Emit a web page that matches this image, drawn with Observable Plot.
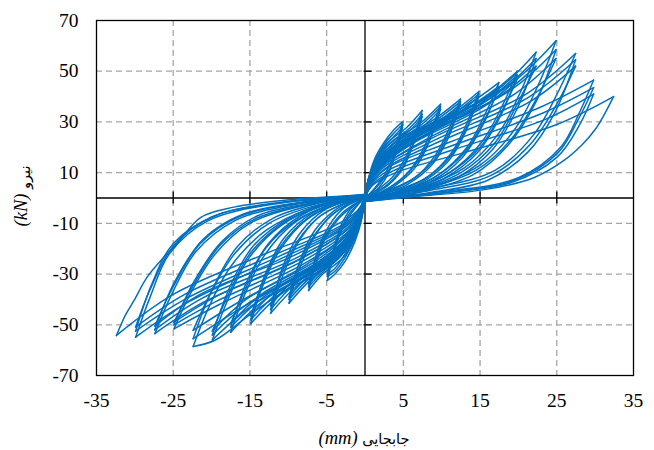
<!DOCTYPE html>
<html>
<head>
<meta charset="utf-8">
<script src="https://cdn.jsdelivr.net/npm/d3@7"></script>
<script src="https://cdn.jsdelivr.net/npm/@observablehq/plot@0.6"></script>
<style>
  html, body { margin: 0; padding: 0; background: #fff; }
</style>
</head>
<body>
<div id="chart"></div>
<script>
const xTicks = [-35, -25, -15, -5, 5, 15, 25, 35];
const yTicks = [-70, -50, -30, -10, 10, 30, 50, 70];
const xGrid = [-25, -15, -5, 5, 15, 25];
const yGrid = [-50, -30, -10, 10, 30, 50];
const xTitleText = "جابجایی";
const xTitleUnit = "(mm)";
const yTitleText = "نیرو";
const yTitleUnit = "(kN)";

// Positive half-cycles: [displacement mm, force kN], origin -> peak -> origin
const posLoops = [
  [[0,0.5],[0.4,7],[1.2,15],[2.5,22],[3.8,27],[4.9,30],[4.3,23],[3.5,15],[2.3,8],[1,3],[0,0]],
  [[0,0.5],[0.5,6],[1.4,14],[2.8,21],[4,25],[4.9,28],[4.2,20],[3.3,12],[2,6],[0.8,2],[0,-0.5]],
  [[0,0],[0.45,6.5],[1.3,14.5],[2.6,21.5],[3.9,26],[4.9,29],[4.1,19],[3.1,10],[1.8,4],[0.6,1],[-0.3,-1.5]],
  [[0,0.5],[0.5,8],[1.5,16],[3,22],[5.5,28],[7.45,34.5],[6.6,26],[5.3,16],[3.5,8],[1.5,3],[0,0]],
  [[0,0.5],[0.6,7],[1.6,14],[3.5,21],[6,27],[7.45,32],[6.5,23],[5,13],[3.2,6],[1.3,2],[0,-0.5]],
  [[0,0],[0.55,7.5],[1.55,15],[3.2,21.5],[5.8,27.5],[7.45,33],[6.4,22],[4.8,11],[3,5],[1.2,1.5],[-0.3,-1.5]],
  [[0,0.5],[0.5,8],[1.5,15],[3.5,22],[7,29],[9.85,37],[8.8,28],[7.2,17],[5,8],[2.5,3],[0,0]],
  [[0,0.5],[0.6,7],[1.8,14],[4,21],[7.5,28],[9.85,35],[8.7,25],[7,15],[4.5,7],[2,2],[0,-0.5]],
  [[0,0],[0.55,7.5],[1.6,14.5],[3.8,21.5],[7.2,28.5],[9.85,36],[8.6,24],[6.8,13],[4.2,5.5],[1.8,1.5],[-0.3,-1.5]],
  [[0,0.5],[0.5,8],[1.6,15],[4,22],[9,31],[12.45,39],[11.2,29],[9.2,17],[6.5,8],[3,3],[0,0]],
  [[0,0.5],[0.6,7],[1.8,13],[4.5,21],[9.5,30],[12.45,37],[11,26],[9,15],[6,7],[2.5,2],[0,-0.5]],
  [[0,0],[0.55,7.5],[1.7,14],[4.2,21.5],[9.2,30.5],[12.45,38],[10.9,24],[8.7,13],[5.6,5.5],[2.3,1.5],[-0.3,-1.5]],
  [[0,0.5],[0.5,8],[1.6,15],[4.5,23],[11,33],[14.85,42],[13.5,31],[11.3,18],[8,8],[4,3],[0,0]],
  [[0,0.5],[0.6,7],[2,13],[5,21],[11.5,32],[14.85,40],[13.3,28],[11,16],[7.5,7],[3.5,2],[0,-0.5]],
  [[0,0],[0.55,7.5],[1.8,14],[4.8,22],[11.2,32.5],[14.85,41],[13.1,26],[10.7,14],[7,5.5],[3.2,1.5],[-0.3,-1.5]],
  [[0,0.5],[0.6,8],[1.8,15],[5,23],[13,36],[17.45,45.5],[15.8,34],[13.3,20],[9.5,9],[5,3],[0,0]],
  [[0,0.5],[0.7,7],[2,13],[5.5,21],[13.5,34],[17.45,43],[15.6,31],[13,18],[9,8],[4.5,2],[0,-0.5]],
  [[0,0],[0.65,7.5],[1.9,14],[5.2,22],[13.2,35],[17.45,44],[15.4,29],[12.7,16],[8.6,6.5],[4.2,1.5],[-0.3,-1.5]],
  [[0,0.5],[0.6,8],[2,15],[6,24],[15,38],[19.85,50],[18,37],[15.2,22],[11,10],[6,3.5],[0,0]],
  [[0,0.5],[0.7,7],[2.2,13],[6.5,22],[15.5,36],[19.85,47],[17.8,34],[15,20],[10.5,9],[5.5,3],[0,-0.5]],
  [[0,0],[0.65,7.5],[2.1,14],[6.2,23],[15.2,37],[19.85,48.5],[17.6,32],[14.7,18],[10.2,7.5],[5.2,2],[-0.3,-1.5]],
  [[0,0.5],[0.6,8],[2,15],[7,26],[17,42],[22.3,57.5],[20.3,42],[17.3,25],[13,12],[7,4],[0,0]],
  [[0,0.5],[0.7,7],[2.3,13],[7.5,24],[17.5,40],[22.3,52],[20,38],[17,22],[12.5,10],[6.5,3],[0,-0.5]],
  [[0,0],[0.65,7.5],[2.1,14],[7.2,25],[17.2,41],[22.3,55],[19.8,35],[16.6,19],[12,8],[6.2,2],[-0.3,-1.5]],
  [[0,0.5],[0.6,8],[2.2,15],[8,27],[19,45],[24.9,62],[22.8,46],[19.5,27],[15,13],[8,4],[0,0]],
  [[0,0.5],[0.8,7],[2.5,13],[8.5,24],[19.5,41],[24.9,55],[22.5,40],[19,23],[14.5,11],[7.5,3.5],[0,-0.5]],
  [[0,0],[0.7,7.5],[2.3,14],[8.2,25.5],[19.2,43],[24.9,58.5],[22.3,38],[18.7,21],[14,9],[7.2,2.5],[-0.3,-1.5]],
  [[0,0.5],[0.7,7],[2.5,13],[9,24],[21,41],[27.45,57],[25.2,42],[22,25],[17,11],[9,4],[0,0]],
  [[0,0.5],[0.8,6],[2.8,12],[9.5,22],[21.5,38],[27.45,52],[25,37],[21.5,21],[16.5,9],[8.5,3],[0,-0.5]],
  [[0,0],[0.75,6.5],[2.6,12.5],[9.2,23],[21.2,39.5],[27.45,54.5],[24.8,34],[21.2,18],[16,7],[8.2,2],[-0.3,-1.5]],
  [[0,0.5],[0.8,6],[3,12],[11,22],[23,36],[29.8,46.5],[28,34],[25.5,20],[20,8],[10,2.5],[0,0]],
  [[0,0.5],[0.9,5],[3.2,10],[11.5,19],[23.5,31],[29.8,41],[28,29],[25,16],[19,6],[10,2],[0,-0.5]],
  [[0,0],[0.85,5.5],[3.1,11],[11.2,20.5],[23.2,33.5],[29.8,43.5],[27.8,31],[25.2,18],[19.5,7],[10,2],[-0.3,-1.5]],
  [[0,0.5],[1,5],[4,10],[13,18],[25,29],[32.4,40],[31.2,33],[30,27],[28.3,21],[25.8,14.5],[22,8],[16,3.5],[8,1],[0,0]]
];

// Negative half-cycles: origin -> negative peak -> origin
const negLoops = [
  [[0,0],[-0.4,-8],[-1.3,-17],[-2.6,-25],[-3.9,-30],[-4.9,-32.5],[-4.3,-25],[-3.4,-15],[-2.2,-8],[-1,-3],[0,0.5]],
  [[0,0],[-0.5,-7],[-1.4,-15],[-2.8,-23],[-4,-28],[-4.9,-30],[-4.2,-22],[-3.2,-13],[-2,-6],[-0.8,-2],[0,0.5]],
  [[-0.3,-1.5],[-0.45,-7.5],[-1.35,-16],[-2.7,-24],[-3.95,-29],[-4.9,-31],[-4.1,-20],[-3,-10],[-1.8,-4],[-0.6,-1],[0.3,1.5]],
  [[0,0],[-0.5,-8],[-1.5,-17],[-3,-24],[-5.5,-30],[-7.35,-36.5],[-6.5,-27],[-5.2,-16],[-3.4,-8],[-1.5,-3],[0,0.5]],
  [[0,0],[-0.6,-7],[-1.6,-15],[-3.5,-22],[-5.8,-29],[-7.35,-34],[-6.4,-24],[-5,-14],[-3,-6],[-1.2,-2],[0,0.5]],
  [[-0.3,-1.5],[-0.55,-7.5],[-1.55,-16],[-3.2,-23],[-5.6,-29.5],[-7.35,-35],[-6.3,-22],[-4.7,-11],[-2.8,-4],[-1,-1],[0.3,1.5]],
  [[0,0],[-0.5,-8],[-1.5,-16],[-3.5,-24],[-7,-32],[-9.9,-41.5],[-8.8,-30],[-7.1,-18],[-4.8,-8],[-2.3,-2.5],[0,0.5]],
  [[0,0],[-0.6,-7],[-1.8,-15],[-4,-23],[-7.5,-31],[-9.9,-39],[-8.7,-27],[-6.9,-16],[-4.4,-7],[-2,-2],[0,0.5]],
  [[-0.3,-1.5],[-0.55,-7.5],[-1.6,-15.5],[-3.8,-23.5],[-7.2,-31.5],[-9.9,-40],[-8.5,-25],[-6.6,-13],[-4,-5],[-1.7,-1],[0.3,1.5]],
  [[0,0],[-0.5,-8],[-1.6,-16],[-4,-25],[-9,-35],[-12.3,-45.5],[-11,-33],[-9,-19],[-6.2,-8],[-3,-2.5],[0,0.5]],
  [[0,0],[-0.6,-7],[-1.8,-14],[-4.5,-23],[-9.5,-33],[-12.3,-42.5],[-10.9,-30],[-8.8,-17],[-5.8,-7],[-2.6,-2],[0,0.5]],
  [[-0.3,-1.5],[-0.55,-7.5],[-1.7,-15],[-4.2,-24],[-9.2,-34],[-12.3,-44],[-10.7,-27],[-8.5,-14],[-5.4,-5],[-2.2,-1],[0.3,1.5]],
  [[0,0],[-0.5,-8],[-1.6,-16],[-4.5,-26],[-11,-38],[-14.9,-49.6],[-13.5,-36],[-11.2,-21],[-7.8,-9],[-3.8,-2.5],[0,0.5]],
  [[0,0],[-0.6,-7],[-2,-14],[-5,-24],[-11.5,-36],[-14.9,-46.5],[-13.3,-33],[-11,-19],[-7.3,-7.5],[-3.4,-2],[0,0.5]],
  [[-0.3,-1.5],[-0.55,-7.5],[-1.8,-15],[-4.8,-25],[-11.2,-37],[-14.9,-48],[-13,-30],[-10.6,-16],[-6.9,-6],[-3,-1],[0.3,1.5]],
  [[0,0],[-0.6,-8],[-1.8,-16],[-5,-26],[-13,-40],[-17.5,-52.9],[-15.8,-39],[-13.2,-23],[-9.3,-10],[-4.8,-3],[0,0.5]],
  [[0,0],[-0.7,-7],[-2,-14],[-5.5,-24],[-13.5,-38],[-17.5,-49.5],[-15.6,-36],[-13,-20],[-8.8,-8.5],[-4.3,-2.5],[0,0.5]],
  [[-0.3,-1.5],[-0.65,-7.5],[-1.9,-15],[-5.2,-25],[-13.2,-39],[-17.5,-51],[-15.4,-33],[-12.6,-18],[-8.4,-7],[-4,-1.5],[0.3,1.5]],
  [[0,0],[-0.6,-8],[-2,-16],[-6,-27],[-15,-43],[-19.9,-56],[-18,-41],[-15.2,-24],[-11,-11],[-6,-3.5],[0,0.5]],
  [[0,0],[-0.7,-7],[-2.2,-14],[-6.5,-25],[-15.5,-40],[-19.9,-52.5],[-17.8,-38],[-15,-22],[-10.5,-9.5],[-5.5,-3],[0,0.5]],
  [[-0.3,-1.5],[-0.65,-7.5],[-2.1,-15],[-6.2,-26],[-15.2,-41.5],[-19.9,-54],[-17.6,-35],[-14.6,-19],[-10,-8],[-5,-2],[0.3,1.5]],
  [[0,0],[-0.6,-8],[-2,-16],[-7,-29],[-15,-46],[-19.5,-56],[-22.4,-58.6],[-20.5,-44],[-17.5,-27],[-13,-13],[-7,-4],[0,0.5]],
  [[0,0],[-0.7,-7],[-2.3,-14],[-7.5,-26],[-17,-42],[-22.4,-52.2],[-20.2,-38],[-17,-22],[-12.5,-10],[-6.5,-3],[0,0.5]],
  [[-0.3,-1.5],[-0.65,-7.5],[-2.1,-15],[-7.2,-27.5],[-16.5,-44],[-22.4,-55.5],[-19.9,-36],[-16.6,-19],[-12,-8],[-6,-2],[0.3,1.5]],
  [[0,0],[-0.6,-7],[-2.2,-14],[-8,-26],[-19,-42],[-24.9,-51.6],[-22.8,-38],[-19.5,-22],[-15,-10],[-8,-3],[0,0.5]],
  [[0,0],[-0.8,-7],[-2.5,-13],[-8.5,-24],[-19.5,-39],[-24.9,-49],[-22.5,-35],[-19,-19],[-14.5,-8.5],[-7.5,-2.5],[0,0.5]],
  [[-0.3,-1.5],[-0.7,-7],[-2.3,-13.5],[-8.2,-25],[-19.2,-40.5],[-24.9,-50],[-22.3,-33],[-18.6,-17],[-14,-7],[-7,-2],[0.3,1.5]],
  [[0,0],[-0.7,-7],[-2.5,-13],[-9,-25],[-21,-41],[-27.4,-53.5],[-25.2,-38],[-22,-21],[-17,-9],[-9,-2.5],[0,0.5]],
  [[0,0],[-0.8,-6],[-2.8,-12],[-9.5,-23],[-21.5,-38],[-27.4,-50.5],[-25,-35],[-21.5,-18],[-16.5,-7.5],[-8.5,-2],[0,0.5]],
  [[-0.3,-1.5],[-0.75,-6.5],[-2.6,-12.5],[-9.2,-24],[-21.2,-39.5],[-27.4,-52],[-24.8,-33],[-21,-16],[-16,-6.5],[-8,-1.5],[0.3,1.5]],
  [[0,0],[-0.8,-6],[-3,-12],[-11,-24],[-23,-41],[-29.9,-54.9],[-28,-39],[-25.5,-22],[-20.5,-9],[-11,-2],[0,0.5]],
  [[0,0],[-0.9,-5],[-3.2,-11],[-11.5,-22],[-23.5,-38],[-29.9,-50.9],[-28,-36],[-25,-19],[-20,-7.5],[-10.5,-1.5],[0,0.5]],
  [[-0.3,-1.5],[-0.85,-5.5],[-3.1,-11.5],[-11.2,-23],[-23.2,-39.5],[-29.9,-52.5],[-27.8,-34],[-25,-18],[-19.5,-7],[-10,-1.5],[0.3,1.5]],
  [[0,0],[-1,-5],[-4,-11],[-13,-22],[-25,-38],[-32.4,-54.2],[-31.2,-46],[-30.1,-40.4],[-28.4,-31.2],[-26.2,-23.3],[-24.5,-18],[-21.4,-7.6],[-17.1,-3.6],[-8.4,-0.3],[0,1]]
];

// Split every half-cycle at its peak so tips stay sharp
const rows = [];
function addLoops(loops, tag) {
  loops.forEach((pts, i) => {
    let k = 0;
    pts.forEach((p, j) => { if (Math.abs(p[0]) > Math.abs(pts[k][0])) k = j; });
    pts.slice(0, k + 1).forEach(p => rows.push({x: p[0], y: p[1], id: `${tag}${i}L`}));
    pts.slice(k).forEach(p => rows.push({x: p[0], y: p[1], id: `${tag}${i}U`}));
  });
}
addLoops(posLoops, "p");
addLoops(negLoops, "n");

const blue = "#0070C0";
const plot = Plot.plot({
  width: 654,
  height: 450,
  marginLeft: 96,
  marginRight: 21,
  marginTop: 20,
  marginBottom: 75,
  x: {domain: [-35, 35]},
  y: {domain: [-70, 70]},
  marks: [
    Plot.gridX(xGrid, {stroke: "#a6a6a6", strokeOpacity: 1, strokeWidth: 1.3, strokeDasharray: "6,4"}),
    Plot.gridY(yGrid, {stroke: "#a6a6a6", strokeOpacity: 1, strokeWidth: 1.3, strokeDasharray: "6,4"}),
    Plot.ruleX([0], {stroke: "#000", strokeWidth: 1.3}),
    Plot.ruleY([0], {stroke: "#000", strokeWidth: 1.3}),
    Plot.ruleX(xGrid, {x: d => d, y1: 0, y2: 0, insetTop: -6, insetBottom: -6, stroke: "#000", strokeWidth: 1.3}),
    Plot.ruleY(yGrid, {y: d => d, x1: 0, x2: 0, insetLeft: -1, insetRight: -7, stroke: "#000", strokeWidth: 1.3}),
    Plot.line(rows, {x: "x", y: "y", z: "id", stroke: blue, strokeWidth: 1.5, curve: "catmull-rom"}),
    Plot.frame({stroke: "#000", strokeWidth: 1.3}),
    Plot.axisX({ticks: xTicks, tickSize: 0, tickPadding: 18, label: null, tickFormat: d => String(d)}),
    Plot.axisY({ticks: yTicks, tickSize: 0, tickPadding: 18, label: null, tickFormat: d => String(d)})
  ]
});
document.getElementById("chart").appendChild(plot);

const svg = d3.select(plot);
// Serif tick labels, set inline on every text node
svg.selectAll("text").attr("font-family", null)
  .style("font-family", "Liberation Serif")
  .style("font-size", "19.5px")
  .style("fill", "#000");

const xt = svg.append("text")
  .attr("x", 364).attr("y", 444)
  .attr("text-anchor", "middle")
  .attr("direction", "ltr")
  .style("fill", "#000");
xt.append("tspan").style("font-family", "Liberation Serif").style("font-style", "italic").style("font-size", "18.5px").text(xTitleUnit + " ");
xt.append("tspan").style("font-family", "DejaVu Sans").style("font-size", "14.5px").text(xTitleText);

const yt = svg.append("text")
  .attr("transform", "translate(27,196) rotate(-90)")
  .attr("text-anchor", "middle")
  .attr("direction", "ltr")
  .style("fill", "#000");
yt.append("tspan").style("font-family", "Liberation Serif").style("font-style", "italic").style("font-size", "18.5px").text(yTitleUnit + " ");
yt.append("tspan").style("font-family", "DejaVu Sans").style("font-size", "14.5px").attr("dy", 3).text(yTitleText);
</script>
</body>
</html>
